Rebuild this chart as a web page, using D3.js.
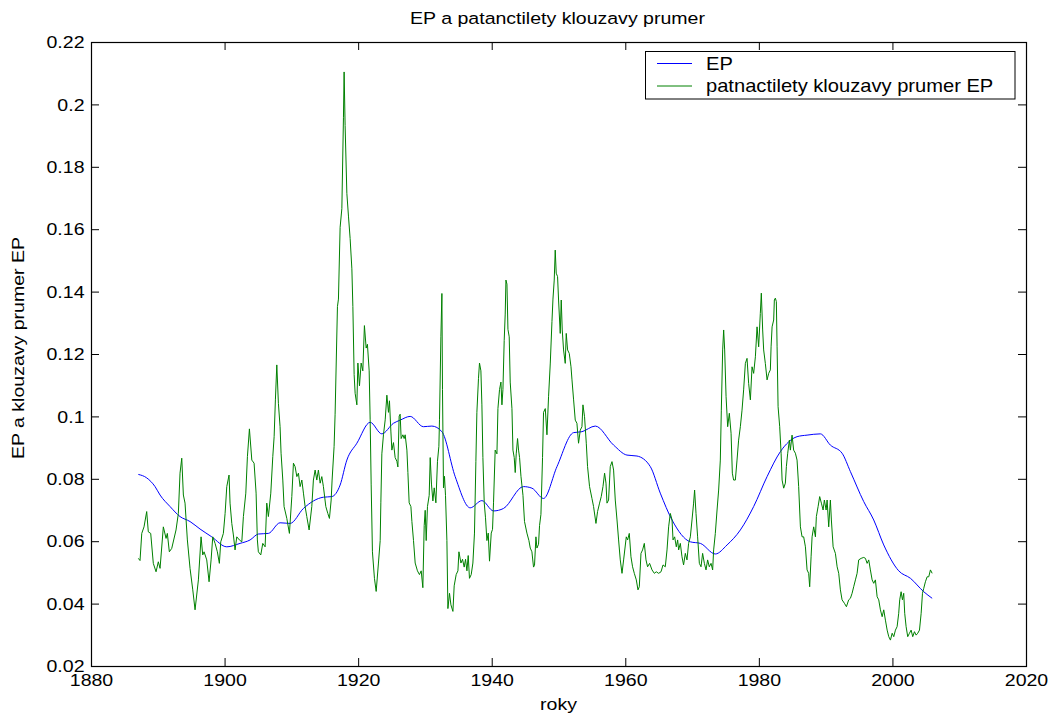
<!DOCTYPE html>
<html><head><meta charset="utf-8">
<script src="https://cdn.jsdelivr.net/npm/d3@7"></script>
<style>body{margin:0;background:#fff}svg{display:block}text{font-family:"Liberation Sans",Arial,Helvetica,sans-serif;fill:#000}</style>
</head><body><svg id="c" width="1056" height="715"></svg>
<script>
const titleText = "EP a patanctilety klouzavy prumer";
const xLabel = "roky";
const yLabel = "EP a klouzavy prumer EP";
const seriesNames = ["EP", "patnactilety klouzavy prumer EP"];
const xTickValues = [1880, 1900, 1920, 1940, 1960, 1980, 2000, 2020];
const xTickLabels = ["1880", "1900", "1920", "1940", "1960", "1980", "2000", "2020"];
const yTickValues = [0.02, 0.04, 0.06, 0.08, 0.1, 0.12, 0.14, 0.16, 0.18, 0.2, 0.22];
const yTickLabels = ["0.02", "0.04", "0.06", "0.08", "0.1", "0.12", "0.14", "0.16", "0.18", "0.2", "0.22"];

const blueYears = [1887.09,1888.34,1889.59,1890.34,1891.84,1893.33,1894.83,1896.33,1898.08,1900.33,1902.32,1903.82,1905.06,1906.56,1908.31,1909.81,1911.81,1914.80,1916.06,1917.30,1918.31,1919.81,1921.80,1923.55,1925.29,1926.29,1927.79,1929.78,1931.04,1932.54,1934.53,1936.78,1938.53,1940.27,1941.77,1944.76,1946.02,1947.76,1949.77,1952.26,1953.51,1955.51,1958.25,1960.25,1961.75,1963.75,1965.24,1967.00,1969.74,1971.24,1973.48,1975.24,1977.23,1979.22,1981.23,1983.22,1985.72,1987.22,1989.21,1990.71,1992.46,1993.71,1995.70,1997.20,1998.70,2000.94,2002.70,2004.69,2005.95];
const blueValues = [0.0814,0.0803,0.0775,0.0748,0.0711,0.0679,0.0663,0.0639,0.0614,0.0582,0.0593,0.0604,0.0623,0.0625,0.0659,0.0657,0.0705,0.0741,0.0743,0.0780,0.0860,0.0914,0.0981,0.0944,0.0978,0.0988,0.1000,0.0967,0.0969,0.0951,0.0807,0.0707,0.0730,0.0697,0.0705,0.0775,0.0770,0.0737,0.0839,0.0948,0.0951,0.0969,0.0908,0.0876,0.0873,0.0839,0.0754,0.0668,0.0598,0.0593,0.0559,0.0588,0.0636,0.0711,0.0807,0.0887,0.0935,0.0940,0.0944,0.0908,0.0882,0.0823,0.0727,0.0668,0.0588,0.0505,0.0481,0.0438,0.0417];

const greenYears = [1887.09,1887.34,1887.60,1887.94,1888.34,1888.58,1888.94,1889.33,1889.74,1890.08,1890.34,1890.83,1891.24,1891.43,1891.73,1892.09,1892.73,1893.08,1893.33,1893.59,1893.83,1894.08,1894.43,1894.83,1895.24,1895.58,1896.08,1896.48,1896.73,1896.93,1897.33,1897.68,1897.98,1898.23,1898.58,1898.92,1899.22,1899.43,1899.82,1900.08,1900.33,1900.67,1900.82,1901.08,1901.32,1901.57,1901.83,1902.22,1902.58,1902.82,1903.18,1903.42,1903.72,1904.08,1904.42,1904.72,1904.91,1905.06,1905.42,1905.72,1906.07,1906.32,1906.56,1906.92,1907.22,1907.42,1907.61,1907.82,1908.06,1908.31,1908.46,1908.72,1908.91,1909.32,1909.71,1910.07,1910.31,1910.56,1910.82,1911.06,1911.31,1911.57,1911.81,1912.06,1912.31,1912.66,1913.06,1913.30,1913.56,1913.81,1914.05,1914.31,1914.56,1914.80,1915.16,1915.46,1915.70,1915.96,1916.10,1916.40,1916.55,1916.90,1917.05,1917.30,1917.56,1917.80,1917.90,1918.05,1918.31,1918.55,1918.80,1919.06,1919.21,1919.40,1919.55,1919.81,1919.96,1920.20,1920.45,1920.70,1920.94,1921.20,1921.39,1921.65,1921.80,1921.95,1922.14,1922.44,1922.70,1923.04,1923.30,1923.40,1923.55,1923.79,1924.05,1924.30,1924.54,1924.69,1924.90,1925.05,1925.29,1925.54,1925.80,1925.95,1926.14,1926.29,1926.44,1926.70,1926.89,1927.04,1927.30,1927.45,1927.64,1927.90,1928.05,1928.29,1928.54,1928.88,1929.18,1929.44,1929.69,1929.89,1930.04,1930.19,1930.38,1930.64,1930.79,1930.98,1931.19,1931.39,1931.64,1931.88,1932.09,1932.18,1932.39,1932.54,1932.63,1932.78,1932.93,1933.08,1933.29,1933.44,1933.68,1933.89,1934.19,1934.38,1934.68,1934.94,1935.09,1935.39,1935.63,1935.88,1936.08,1936.29,1936.48,1936.67,1936.93,1937.18,1937.42,1937.63,1937.78,1938.02,1938.17,1938.38,1938.53,1938.68,1938.88,1939.07,1939.28,1939.48,1939.67,1939.93,1940.12,1940.27,1940.52,1940.78,1940.93,1941.17,1941.38,1941.53,1941.68,1941.87,1942.02,1942.13,1942.28,1942.43,1942.62,1942.77,1943.03,1943.18,1943.37,1943.52,1943.67,1943.87,1944.02,1944.17,1944.38,1944.68,1944.91,1945.27,1945.57,1945.77,1946.02,1946.26,1946.41,1946.62,1946.77,1947.01,1947.16,1947.37,1947.61,1947.76,1948.02,1948.27,1948.51,1948.77,1949.02,1949.17,1949.36,1949.51,1949.66,1949.86,1950.01,1950.26,1950.41,1950.56,1950.76,1951.01,1951.16,1951.36,1951.61,1951.87,1952.02,1952.26,1952.51,1952.76,1953.00,1953.26,1953.51,1953.66,1953.90,1954.16,1954.35,1954.65,1955.01,1955.25,1955.61,1955.85,1956.15,1956.40,1956.66,1956.90,1957.11,1957.26,1957.50,1957.75,1958.01,1958.25,1958.50,1958.76,1959.00,1959.25,1959.51,1959.75,1960.15,1960.35,1960.60,1960.85,1961.09,1961.35,1961.65,1961.90,1962.10,1962.35,1962.59,1962.85,1963.10,1963.34,1963.64,1964.00,1964.35,1964.64,1964.99,1965.35,1965.65,1965.99,1966.25,1966.49,1966.74,1967.00,1967.15,1967.39,1967.64,1967.84,1967.99,1968.24,1968.49,1968.73,1968.99,1969.24,1969.48,1969.74,1969.99,1970.23,1970.38,1970.59,1970.83,1971.09,1971.34,1971.58,1971.84,1972.09,1972.33,1972.58,1972.84,1973.08,1973.23,1973.48,1973.74,1973.98,1974.23,1974.38,1974.58,1974.73,1974.88,1975.09,1975.33,1975.58,1975.84,1976.03,1976.22,1976.48,1976.73,1976.97,1977.23,1977.48,1977.72,1977.98,1978.23,1978.47,1978.73,1978.98,1979.22,1979.48,1979.73,1979.97,1980.22,1980.37,1980.57,1980.72,1980.97,1981.23,1981.47,1981.72,1981.83,1981.98,1982.22,1982.32,1982.47,1982.62,1982.73,1982.88,1983.12,1983.33,1983.48,1983.72,1983.97,1984.12,1984.32,1984.57,1984.72,1984.97,1985.21,1985.47,1985.72,1985.96,1986.22,1986.47,1986.71,1986.97,1987.22,1987.46,1987.61,1987.82,1987.97,1988.21,1988.47,1988.61,1988.87,1989.11,1989.36,1989.62,1989.81,1990.07,1990.22,1990.46,1990.71,1990.86,1991.12,1991.46,1991.72,1991.96,1992.21,1992.46,1992.81,1993.11,1993.45,1993.71,1993.96,1994.20,1994.46,1994.71,1994.95,1995.31,1995.70,1995.96,1996.21,1996.45,1996.70,1996.96,1997.20,1997.45,1997.71,1997.95,1998.20,1998.46,1998.70,1998.95,1999.21,1999.45,1999.70,1999.96,2000.20,2000.45,2000.70,2000.94,2001.09,2001.30,2001.50,2001.69,2001.84,2002.05,2002.29,2002.55,2002.80,2003.04,2003.30,2003.55,2003.79,2004.05,2004.30,2004.50,2004.69,2004.94,2005.20,2005.44,2005.69,2005.95];
const greenValues = [0.0545,0.0538,0.0625,0.0646,0.0695,0.0630,0.0625,0.0529,0.0502,0.0534,0.0513,0.0646,0.0609,0.0625,0.0566,0.0577,0.0636,0.0689,0.0818,0.0866,0.0748,0.0722,0.0604,0.0513,0.0444,0.0380,0.0476,0.0614,0.0556,0.0566,0.0540,0.0470,0.0540,0.0614,0.0593,0.0566,0.0529,0.0598,0.0625,0.0689,0.0775,0.0812,0.0722,0.0657,0.0620,0.0572,0.0614,0.0604,0.0598,0.0679,0.0754,0.0871,0.0960,0.0860,0.0850,0.0754,0.0604,0.0566,0.0556,0.0593,0.0582,0.0722,0.0679,0.0754,0.0871,0.0935,0.1053,0.1165,0.1042,0.0967,0.0882,0.0796,0.0711,0.0673,0.0625,0.0743,0.0850,0.0839,0.0807,0.0818,0.0775,0.0796,0.0754,0.0711,0.0679,0.0636,0.0711,0.0796,0.0828,0.0796,0.0828,0.0786,0.0807,0.0775,0.0711,0.0689,0.0673,0.0732,0.0796,0.0904,0.1007,0.1352,0.1376,0.1606,0.1666,0.1957,0.2104,0.1932,0.1715,0.1642,0.1570,0.1473,0.1352,0.1134,0.1074,0.1037,0.1171,0.1098,0.1171,0.1146,0.1291,0.1219,0.1231,0.1146,0.0989,0.0783,0.0566,0.0481,0.0439,0.0530,0.0602,0.0723,0.0880,0.0941,0.0989,0.1068,0.1013,0.1050,0.0953,0.0892,0.0916,0.0868,0.0856,0.0838,0.1001,0.1007,0.0929,0.0941,0.0929,0.0941,0.0892,0.0820,0.0723,0.0711,0.0663,0.0602,0.0530,0.0505,0.0493,0.0505,0.0451,0.0650,0.0699,0.0602,0.0711,0.0747,0.0868,0.0783,0.0729,0.0771,0.0723,0.0856,0.0904,0.0989,0.1255,0.1394,0.1086,0.0771,0.0808,0.0747,0.0602,0.0384,0.0433,0.0396,0.0375,0.0457,0.0493,0.0505,0.0566,0.0530,0.0542,0.0517,0.0542,0.0505,0.0554,0.0481,0.0493,0.0530,0.0626,0.0856,0.1013,0.1122,0.1171,0.1146,0.1037,0.0868,0.0723,0.0675,0.0602,0.0626,0.0536,0.0626,0.0638,0.0723,0.0892,0.0880,0.1025,0.1086,0.1110,0.1037,0.1086,0.1243,0.1328,0.1437,0.1424,0.1279,0.1255,0.1110,0.1025,0.0892,0.0868,0.0820,0.0880,0.0929,0.0892,0.0868,0.0808,0.0747,0.0663,0.0626,0.0602,0.0578,0.0566,0.0517,0.0523,0.0614,0.0578,0.0590,0.0650,0.0686,0.0868,0.1013,0.1025,0.0941,0.1063,0.1171,0.1304,0.1376,0.1437,0.1533,0.1459,0.1448,0.1373,0.1266,0.1373,0.1277,0.1213,0.1170,0.1266,0.1213,0.1202,0.1159,0.1117,0.1053,0.0988,0.0978,0.0914,0.0956,0.0967,0.1037,0.0999,0.0914,0.0839,0.0775,0.0737,0.0711,0.0657,0.0695,0.0722,0.0743,0.0775,0.0818,0.0786,0.0722,0.0732,0.0839,0.0855,0.0828,0.0732,0.0668,0.0604,0.0540,0.0497,0.0540,0.0614,0.0604,0.0625,0.0550,0.0518,0.0497,0.0476,0.0444,0.0454,0.0561,0.0572,0.0593,0.0540,0.0518,0.0529,0.0508,0.0497,0.0502,0.0497,0.0502,0.0524,0.0518,0.0572,0.0646,0.0689,0.0668,0.0604,0.0614,0.0582,0.0604,0.0572,0.0593,0.0550,0.0524,0.0561,0.0540,0.0593,0.0614,0.0668,0.0722,0.0764,0.0689,0.0614,0.0529,0.0518,0.0561,0.0529,0.0508,0.0540,0.0518,0.0529,0.0508,0.0572,0.0625,0.0700,0.0764,0.0860,0.1020,0.1213,0.1277,0.1213,0.1063,0.0967,0.1010,0.0946,0.0818,0.0796,0.0796,0.0860,0.0924,0.0967,0.1020,0.1085,0.1170,0.1186,0.1106,0.1053,0.1159,0.1138,0.1191,0.1287,0.1223,0.1330,0.1395,0.1277,0.1213,0.1170,0.1117,0.1138,0.1149,0.1223,0.1287,0.1309,0.1373,0.1379,0.1368,0.1223,0.1031,0.0967,0.0882,0.0796,0.0770,0.0786,0.0839,0.0882,0.0924,0.0892,0.0940,0.0892,0.0882,0.0860,0.0775,0.0646,0.0614,0.0614,0.0582,0.0508,0.0497,0.0454,0.0550,0.0614,0.0646,0.0614,0.0679,0.0711,0.0743,0.0722,0.0700,0.0732,0.0700,0.0732,0.0646,0.0732,0.0668,0.0582,0.0561,0.0518,0.0497,0.0444,0.0412,0.0401,0.0390,0.0412,0.0417,0.0433,0.0454,0.0476,0.0497,0.0540,0.0545,0.0548,0.0545,0.0529,0.0540,0.0508,0.0476,0.0465,0.0476,0.0422,0.0412,0.0380,0.0358,0.0380,0.0347,0.0315,0.0294,0.0283,0.0305,0.0294,0.0315,0.0326,0.0369,0.0412,0.0438,0.0412,0.0433,0.0369,0.0326,0.0294,0.0305,0.0315,0.0294,0.0310,0.0299,0.0305,0.0315,0.0369,0.0433,0.0449,0.0470,0.0486,0.0486,0.0508,0.0497];

const W = 1056, H = 715;
const L = 91, R = 1026, T = 42, B = 666;
const SX = 1.15, FS = 17;
const svg = d3.select("#c");
const x = d3.scaleLinear().domain([1880, 2020]).range([L, R]);
const y = d3.scaleLinear().domain([0.02, 0.22]).range([B, T]);

svg.append("rect").attr("width", W).attr("height", H).attr("fill", "#fff");

function label(parent, tx, ty, str, anchor, rot, size) {
  const g = parent.append("g").attr("transform", `translate(${tx},${ty})` + (rot ? ` rotate(${rot})` : ""));
  g.append("text").attr("transform", `scale(${SX},1)`).attr("text-anchor", anchor)
    .style("font-size", (size || FS) + "px").text(str);
  return g;
}

// lines
const lineGen = (xs, vs, curve) => d3.line().curve(curve).x((d, i) => x(xs[i])).y((d, i) => y(vs[i]))(xs);
const plot = svg.append("g");
plot.append("path").attr("d", lineGen(blueYears, blueValues, d3.curveMonotoneX)).attr("fill", "none").attr("stroke", "#0000ff").attr("stroke-width", 1).attr("stroke-linejoin", "round");
plot.append("path").attr("d", lineGen(greenYears, greenValues, d3.curveLinear)).attr("fill", "none").attr("stroke", "#008000").attr("stroke-width", 1).attr("stroke-linejoin", "round");

// axes (ticks inward, all four sides)
function styleAxis(g) { g.select(".domain").remove(); g.selectAll("line").attr("stroke", "#000"); g.attr("font-family", null).attr("font-size", null); }
const xb = svg.append("g").attr("transform", `translate(0,${B})`)
  .call(d3.axisBottom(x).tickValues(xTickValues).tickSize(-8).tickFormat((d, i) => xTickLabels[i]));
styleAxis(xb);
xb.selectAll("text").attr("y", 20).attr("dy", 0).attr("transform", `scale(${SX},1)`).style("font-size", FS + "px").attr("fill", "#000");
const xt = svg.append("g").attr("transform", `translate(0,${T})`)
  .call(d3.axisTop(x).tickValues(xTickValues).tickSize(-8).tickFormat(""));
styleAxis(xt);
const yl = svg.append("g").attr("transform", `translate(${L},0)`)
  .call(d3.axisLeft(y).tickValues(yTickValues).tickSize(-8).tickFormat((d, i) => yTickLabels[i]));
styleAxis(yl);
yl.selectAll("text").attr("x", -6.5 / SX).attr("dy", "0.33em").attr("transform", `scale(${SX},1)`).style("font-size", FS + "px").attr("fill", "#000");
const yr = svg.append("g").attr("transform", `translate(${R},0)`)
  .call(d3.axisRight(y).tickValues(yTickValues).tickSize(-8).tickFormat(""));
styleAxis(yr);

// box
svg.append("rect").attr("x", L + 0.5).attr("y", T + 0.5).attr("width", R - L).attr("height", B - T)
  .attr("fill", "none").attr("stroke", "#000").attr("stroke-width", 1.2);

// titles
label(svg, (L + R) / 2 - 1, 24, titleText, "middle", 0);
label(svg, (L + R) / 2, 710, xLabel, "middle", 0);
label(svg, 24, (T + B) / 2 - 6, yLabel, "middle", -90);

// legend
const lg = svg.append("g");
lg.append("rect").attr("x", 645.5).attr("y", 51.5).attr("width", 369.5).attr("height", 47.5)
  .attr("fill", "#fff").attr("stroke", "#000").attr("stroke-width", 1);
const legColors = ["#0000ff", "#008000"];
const legY = [63.5, 86];
seriesNames.forEach((n, i) => {
  lg.append("line").attr("x1", 657).attr("x2", 692).attr("y1", legY[i]).attr("y2", legY[i])
    .attr("stroke", legColors[i]).attr("stroke-width", 1);
  label(lg, 706, legY[i] + 6, n, "start", 0, 17.5);
});
</script></body></html>
